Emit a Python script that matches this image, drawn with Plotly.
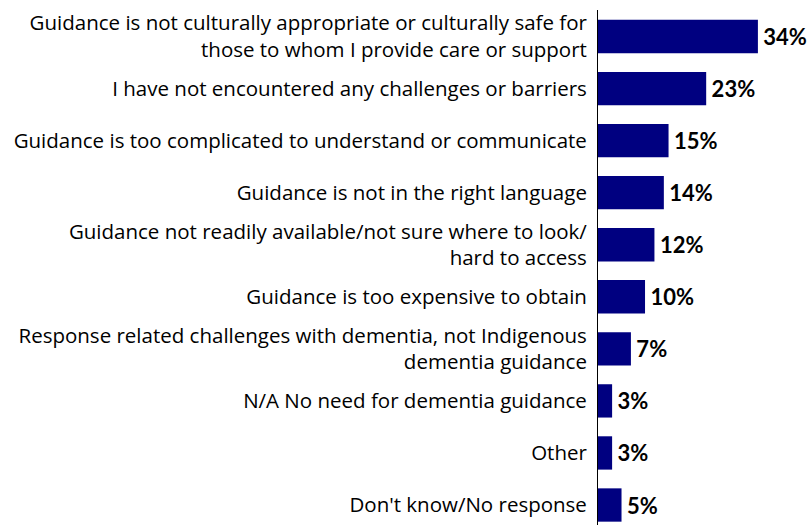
import plotly.graph_objects as go

categories = [
    "Guidance is not culturally appropriate or culturally safe for<br>those to whom I provide care or support",
    "I have not encountered any challenges or barriers",
    "Guidance is too complicated to understand or communicate",
    "Guidance is not in the right language",
    "Guidance not readily available/not sure where to look/<br>hard to access",
    "Guidance is too expensive to obtain",
    "Response related challenges with dementia, not Indigenous<br>dementia guidance",
    "N/A No need for dementia guidance",
    "Other",
    "Don't know/No response",
]
values = [34, 23, 15, 14, 12, 10, 7, 3, 3, 5]

positions = list(range(len(categories)))

fig = go.Figure(
    go.Bar(
        x=values,
        y=positions,
        orientation="h",
        marker=dict(color="#000080", line=dict(width=0)),
        width=0.64,
        text=[f"<span style='font-size:10px'> </span>{v}%" for v in values],
        textposition="outside",
        constraintext="none",
        cliponaxis=False,
        textfont=dict(family="Lato", size=22, color="#000000", weight="bold"),
    )
)

fig.update_layout(
    width=812,
    height=525,
    margin=dict(l=598, r=0, t=10, b=0),
    paper_bgcolor="white",
    plot_bgcolor="white",
    showlegend=False,
    xaxis=dict(
        range=[0, 45.5],
        visible=False,
        showgrid=False,
        zeroline=False,
    ),
    yaxis=dict(
        range=[9.384, -0.509],
        tickmode="array",
        tickvals=positions,
        ticktext=categories,
        ticks="",
        ticklen=0,
        showline=True,
        linecolor="#000000",
        linewidth=1,
        showgrid=False,
        zeroline=False,
        automargin=False,
        tickfont=dict(family="Open Sans", size=20.5, color="#000000"),
        ticklabelstandoff=6,
    ),
)

fig.write_html("out.html")
